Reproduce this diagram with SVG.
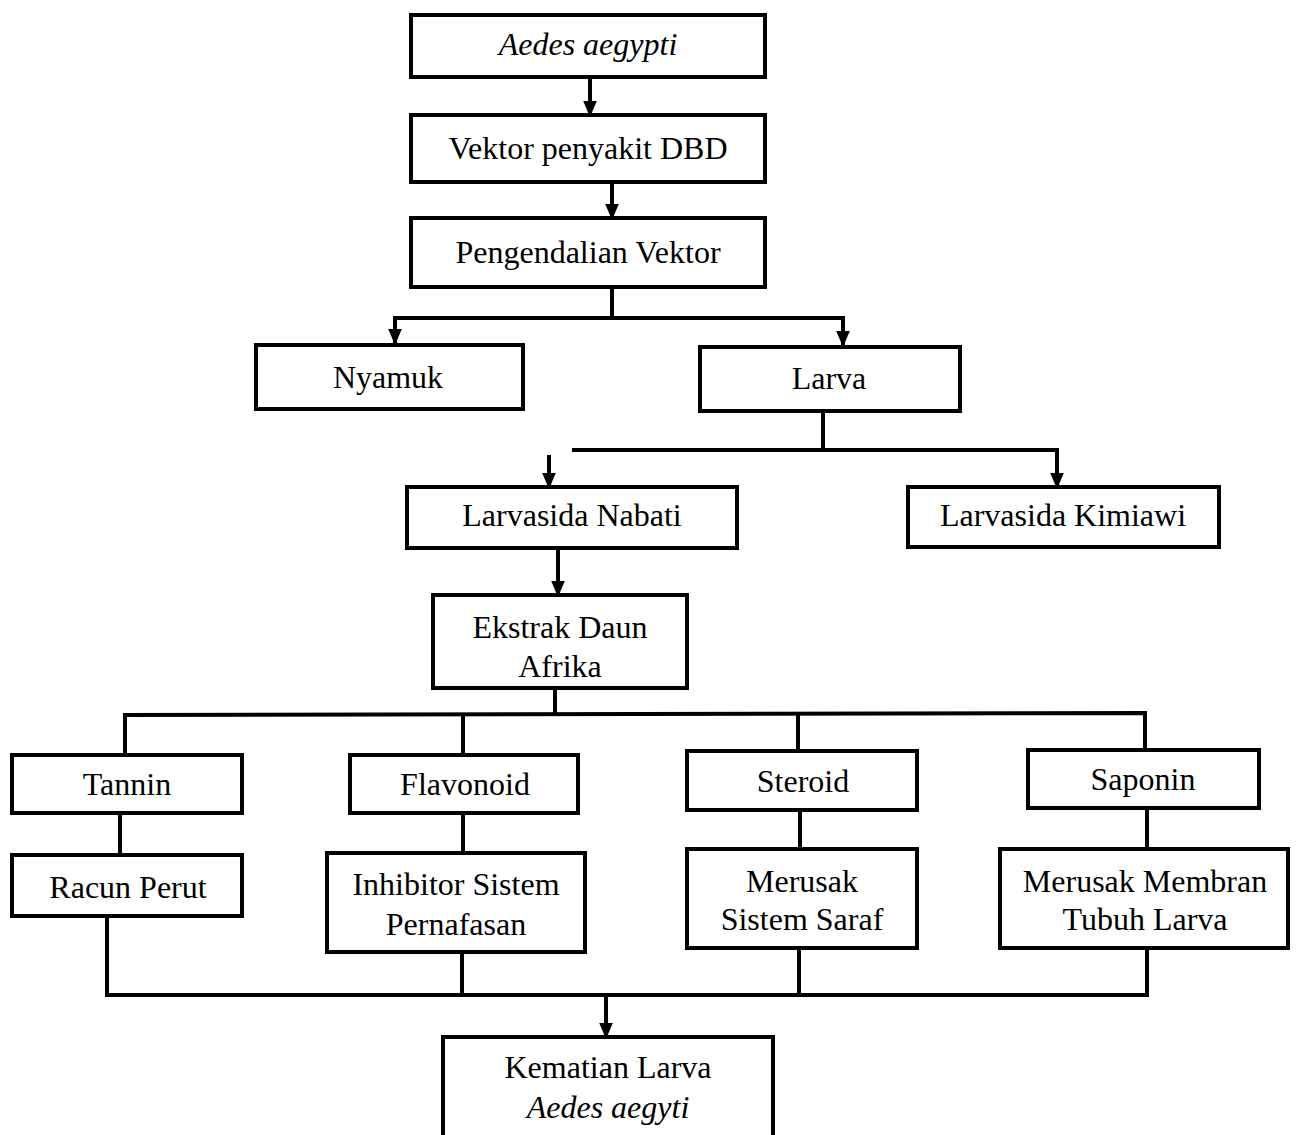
<svg xmlns="http://www.w3.org/2000/svg" width="1296" height="1135" viewBox="0 0 1296 1135">
<defs>
<marker id="ah" markerWidth="4" markerHeight="4" refX="3.5" refY="2" orient="auto" markerUnits="strokeWidth" viewBox="0 0 4 4">
<path d="M0,0.3 L4,2 L0,3.7 Z" fill="#000"/>
</marker>
<style>
.box{fill:#fff;stroke:#000;stroke-width:4}
.t{font-size:32px;text-anchor:middle;fill:#000}
.i{font-style:italic}
.c{fill:none;stroke:#000;stroke-width:4}
.a{fill:none;stroke:#000;stroke-width:4;marker-end:url(#ah)}
</style>
</defs>
<rect width="1296" height="1135" fill="#fff"/>
<g id="connectors">
<line class="a" x1="590" y1="77" x2="590" y2="115"/>
<line class="a" x1="612" y1="182" x2="612" y2="218"/>
<polyline class="c" points="612,287 612,318"/>
<polyline class="a" points="843,318 395,318 395,343"/>
<polyline class="a" points="612,318 843,318 843,345"/>
<polyline class="c" points="823,411 823,450"/>
<polyline class="a" points="572,450 1057,450 1057,487"/>
<line class="a" x1="549" y1="455" x2="549" y2="487"/>
<line class="a" x1="558" y1="548" x2="558" y2="595"/>
<polyline class="c" points="555,688 555,714"/>
<polyline class="c" points="125,755 125,715 1145,713 1145,750"/>
<line class="c" x1="463" y1="714" x2="463" y2="755"/>
<line class="c" x1="798" y1="713" x2="798" y2="751"/>
<line class="c" x1="120" y1="813" x2="120" y2="855"/>
<line class="c" x1="463" y1="813" x2="463" y2="853"/>
<line class="c" x1="800" y1="810" x2="800" y2="849"/>
<line class="c" x1="1147" y1="808" x2="1147" y2="849"/>
<polyline class="c" points="107,916 107,995 1147,995 1147,948"/>
<line class="c" x1="462" y1="952" x2="462" y2="995"/>
<line class="c" x1="799" y1="948" x2="799" y2="997"/>
<line class="a" x1="606" y1="995" x2="606" y2="1037"/>
</g>
<g font-family="'Liberation Serif', 'Times New Roman', serif">
<g id="n-aedes"><rect class="box" x="411" y="15" width="354" height="62"/><text class="t i" x="588" y="55">Aedes aegypti</text></g>
<g id="n-vektor"><rect class="box" x="411" y="115" width="354" height="67"/><text class="t" x="588" y="159">Vektor penyakit DBD</text></g>
<g id="n-pengendalian"><rect class="box" x="411" y="218" width="354" height="69"/><text class="t" x="588" y="263">Pengendalian Vektor</text></g>
<g id="n-nyamuk"><rect class="box" x="256" y="345" width="267" height="64"/><text class="t" x="388" y="388">Nyamuk</text></g>
<g id="n-larva"><rect class="box" x="700" y="347" width="260" height="64"/><text class="t" x="829" y="389">Larva</text></g>
<g id="n-nabati"><rect class="box" x="407" y="487" width="330" height="61"/><text class="t" x="572" y="526">Larvasida Nabati</text></g>
<g id="n-kimiawi"><rect class="box" x="908" y="487" width="311" height="60"/><text class="t" x="1063" y="526">Larvasida Kimiawi</text></g>
<g id="n-ekstrak"><rect class="box" x="433" y="595" width="254" height="93"/><text class="t" x="560" y="638">Ekstrak Daun</text><text class="t" x="560" y="677">Afrika</text></g>
<g id="n-tannin"><rect class="box" x="12" y="755" width="230" height="58"/><text class="t" x="127" y="795">Tannin</text></g>
<g id="n-flavonoid"><rect class="box" x="350" y="755" width="228" height="58"/><text class="t" x="465" y="795">Flavonoid</text></g>
<g id="n-steroid"><rect class="box" x="687" y="751" width="230" height="59"/><text class="t" x="803" y="792">Steroid</text></g>
<g id="n-saponin"><rect class="box" x="1028" y="750" width="231" height="58"/><text class="t" x="1143" y="790">Saponin</text></g>
<g id="n-racun"><rect class="box" x="12" y="855" width="230" height="61"/><text class="t" x="128" y="898">Racun Perut</text></g>
<g id="n-inhibitor"><rect class="box" x="327" y="853" width="258" height="99"/><text class="t" x="456" y="895">Inhibitor Sistem</text><text class="t" x="456" y="935">Pernafasan</text></g>
<g id="n-saraf"><rect class="box" x="687" y="849" width="230" height="99"/><text class="t" x="802" y="892">Merusak</text><text class="t" x="802" y="930">Sistem Saraf</text></g>
<g id="n-membran"><rect class="box" x="1000" y="849" width="288" height="99"/><text class="t" x="1145" y="892">Merusak Membran</text><text class="t" x="1145" y="930">Tubuh Larva</text></g>
<g id="n-kematian"><rect class="box" x="443" y="1037" width="330" height="110"/><text class="t" x="608" y="1078">Kematian Larva</text><text class="t i" x="608" y="1118">Aedes aegyti</text></g>
</g>
</svg>
